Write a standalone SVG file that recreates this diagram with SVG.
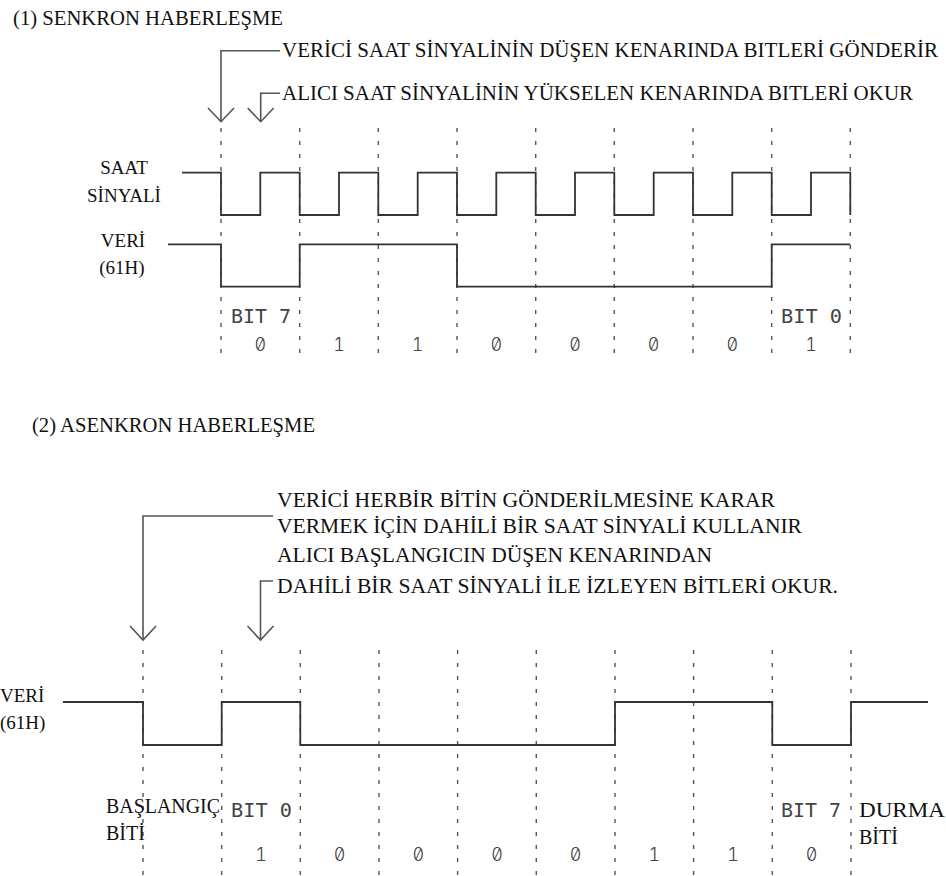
<svg xmlns="http://www.w3.org/2000/svg" width="946" height="876" viewBox="0 0 946 876">
<style>
.t{font-family:"Liberation Serif","DejaVu Serif","Times New Roman",serif;fill:#111;font-size:20px}
.t21{font-size:21px}
.t19{font-size:19px}
.m{font-family:"DejaVu Sans Mono","Liberation Mono",monospace;fill:#444;font-size:19px}
.md{font-family:Inter,"DejaVu Sans Mono",monospace;font-feature-settings:"zero" 1,"tnum" 1;font-weight:300;fill:#444;font-size:18px;text-anchor:middle}
.sig{fill:none;stroke:#333;stroke-width:1.8}
.grid{stroke:#555;stroke-width:1.4;stroke-dasharray:4 9}
.conn{fill:none;stroke:#555;stroke-width:1.6}
</style>
<rect width="946" height="876" fill="#fff"/>

<g id="titles">
<text class="t" x="13" y="25" textLength="270" lengthAdjust="spacingAndGlyphs">(1) SENKRON HABERLEŞME</text>
<text class="t" x="32" y="432" textLength="283" lengthAdjust="spacingAndGlyphs">(2) ASENKRON HABERLEŞME</text>
</g>

<g id="sync-notes">
<text class="t t21" x="282" y="57" textLength="656" lengthAdjust="spacingAndGlyphs">VERİCİ SAAT SİNYALİNİN DÜŞEN KENARINDA BITLERİ GÖNDERİR</text>
<text class="t t21" x="282" y="100" textLength="631" lengthAdjust="spacingAndGlyphs">ALICI SAAT SİNYALİNİN YÜKSELEN KENARINDA BITLERİ OKUR</text>
</g>

<g id="async-notes">
<text class="t" x="277" y="507" textLength="498" lengthAdjust="spacingAndGlyphs">VERİCİ HERBİR BİTİN GÖNDERİLMESİNE KARAR</text>
<text class="t" x="277" y="533" textLength="525" lengthAdjust="spacingAndGlyphs">VERMEK İÇİN DAHİLİ BİR SAAT SİNYALİ KULLANIR</text>
<text class="t" x="277" y="562" textLength="435" lengthAdjust="spacingAndGlyphs">ALICI BAŞLANGICIN DÜŞEN KENARINDAN</text>
<text class="t" x="277" y="593" textLength="561" lengthAdjust="spacingAndGlyphs">DAHİLİ BİR SAAT SİNYALİ İLE İZLEYEN BİTLERİ OKUR.</text>
</g>

<g id="sync-grid">
<line class="grid" x1="221" y1="128" x2="221" y2="358"/>
<line class="grid" x1="299.7" y1="128" x2="299.7" y2="358"/>
<line class="grid" x1="378.3" y1="128" x2="378.3" y2="358"/>
<line class="grid" x1="457" y1="128" x2="457" y2="358"/>
<line class="grid" x1="535.7" y1="128" x2="535.7" y2="358"/>
<line class="grid" x1="614.3" y1="128" x2="614.3" y2="358"/>
<line class="grid" x1="693" y1="128" x2="693" y2="358"/>
<line class="grid" x1="771.7" y1="128" x2="771.7" y2="358"/>
<line class="grid" x1="850.3" y1="128" x2="850.3" y2="358"/>
</g>

<g id="sync-signals">
<path class="sig" d="M182,172.7 H221 V215 H260.3 V172.7 H299.7 V215 H339 V172.7 H378.3 V215 H417.7 V172.7 H457 V215 H496.3 V172.7 H535.7 V215 H575 V172.7 H614.3 V215 H653.7 V172.7 H693 V215 H732.3 V172.7 H771.7 V215 H811 V172.7 H850.3 V215"/>
<path class="sig" d="M168,244.3 H221 V286.7 H299.7 V244.3 H457 V286.7 H771.7 V244.3 H850.3"/>
</g>

<g id="sync-labels">
<text class="t t19" x="124" y="174" text-anchor="middle">SAAT</text>
<text class="t t19" x="124" y="202" text-anchor="middle">SİNYALİ</text>
<text class="t t19" x="123" y="247" text-anchor="middle">VERİ</text>
<text class="t t19" x="122" y="274" text-anchor="middle">(61H)</text>
<text class="m" x="231" y="323" textLength="60" lengthAdjust="spacingAndGlyphs">BIT 7</text>
<text class="m" x="781" y="323" textLength="61" lengthAdjust="spacingAndGlyphs">BIT 0</text>
<text class="md" x="260.3" y="351">0</text>
<text class="md" x="339" y="351">1</text>
<text class="md" x="417.7" y="351">1</text>
<text class="md" x="496.3" y="351">0</text>
<text class="md" x="575" y="351">0</text>
<text class="md" x="653.7" y="351">0</text>
<text class="md" x="732.3" y="351">0</text>
<text class="md" x="811" y="351">1</text>
</g>

<g id="async-grid">
<line class="grid" x1="143" y1="650" x2="143" y2="876"/>
<line class="grid" x1="221.7" y1="650" x2="221.7" y2="876"/>
<line class="grid" x1="300.3" y1="650" x2="300.3" y2="876"/>
<line class="grid" x1="379" y1="650" x2="379" y2="876"/>
<line class="grid" x1="457.6" y1="650" x2="457.6" y2="876"/>
<line class="grid" x1="536.3" y1="650" x2="536.3" y2="876"/>
<line class="grid" x1="615" y1="650" x2="615" y2="876"/>
<line class="grid" x1="693.6" y1="650" x2="693.6" y2="876"/>
<line class="grid" x1="772.3" y1="650" x2="772.3" y2="876"/>
<line class="grid" x1="851" y1="650" x2="851" y2="876"/>
</g>

<g id="async-signal">
<path class="sig" d="M63,702 H143 V745 H221.7 V702 H300.3 V745 H615 V702 H772.3 V745 H851 V702 H928"/>
</g>

<g id="async-labels">
<text class="t t19" x="0" y="702">VERİ</text>
<text class="t t19" x="0" y="729">(61H)</text>
<text class="t" x="106" y="813" textLength="114" lengthAdjust="spacingAndGlyphs">BAŞLANGIÇ</text>
<text class="t" x="106" y="840">BİTİ</text>
<text class="t" x="859" y="817" textLength="86" lengthAdjust="spacingAndGlyphs">DURMA</text>
<text class="t" x="859" y="844">BİTİ</text>
<text class="m" x="231" y="817" textLength="61" lengthAdjust="spacingAndGlyphs">BIT 0</text>
<text class="m" x="781" y="817" textLength="60" lengthAdjust="spacingAndGlyphs">BIT 7</text>
<text class="md" x="261" y="861">1</text>
<text class="md" x="339.7" y="861">0</text>
<text class="md" x="418.3" y="861">0</text>
<text class="md" x="497" y="861">0</text>
<text class="md" x="575.7" y="861">0</text>
<text class="md" x="654.3" y="861">1</text>
<text class="md" x="733" y="861">1</text>
<text class="md" x="811.7" y="861">0</text>
</g>

<g id="connectors">
<polyline class="conn" points="280,50.7 221,50.7 221,121.7"/>
<polyline class="conn" points="208,108 221,121.7 234,108"/>
<polyline class="conn" points="280,93.3 260.7,93.3 260.7,121.7"/>
<polyline class="conn" points="247.7,108 260.7,121.7 273.7,108"/>
<polyline class="conn" points="273,516 143,516 143,640"/>
<polyline class="conn" points="130,626 143,640 156,626"/>
<polyline class="conn" points="273,581 260.5,581 260.5,640"/>
<polyline class="conn" points="247.5,626 260.5,640 273.5,626"/>
</g>
</svg>
